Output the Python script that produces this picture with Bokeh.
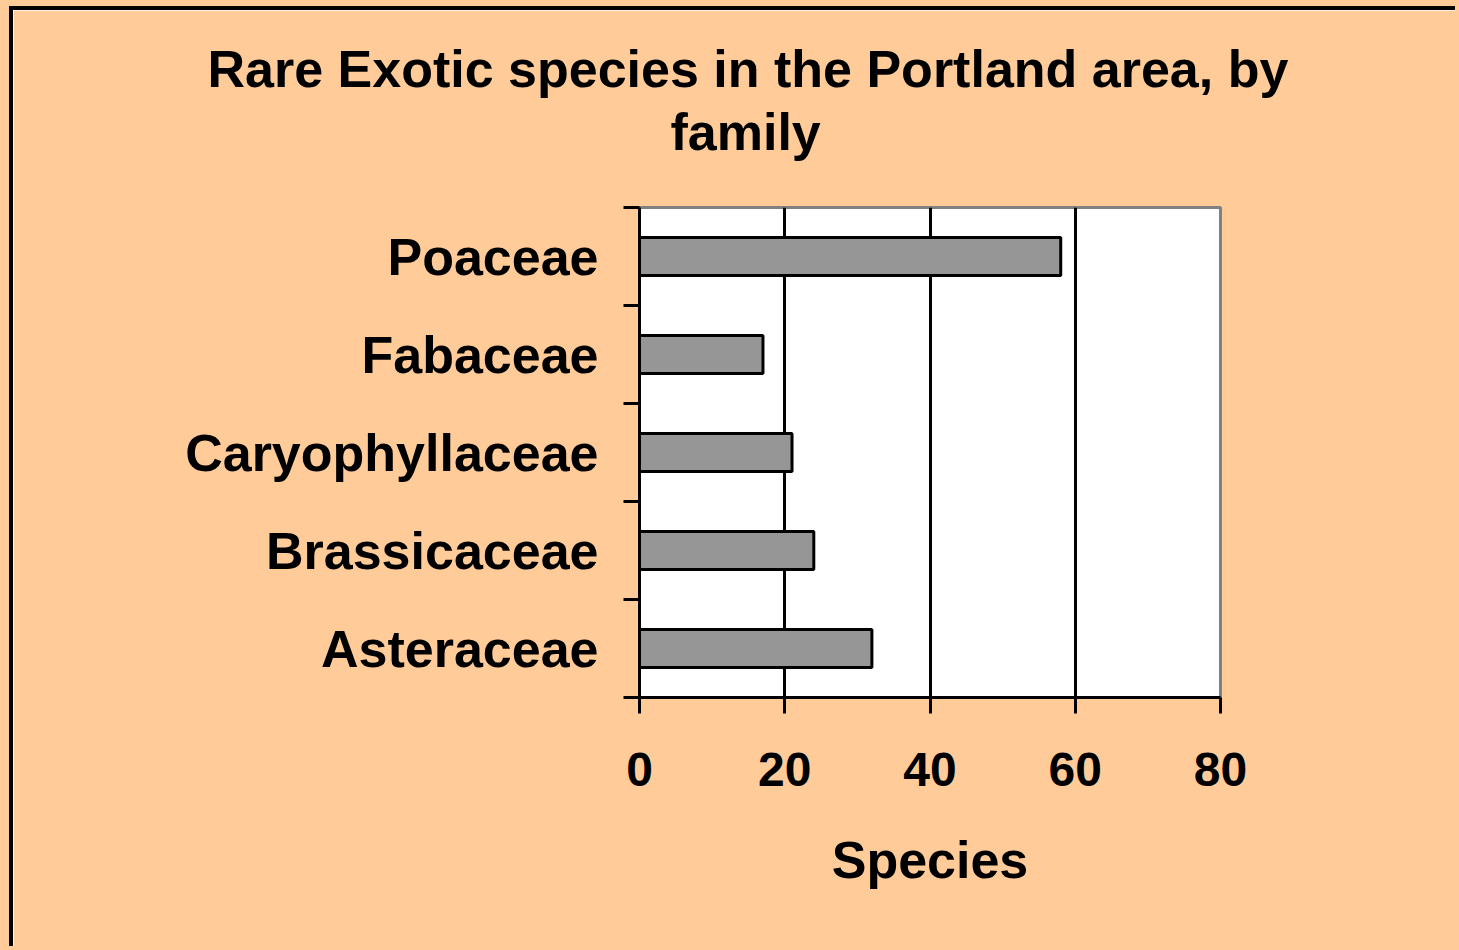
from bokeh.plotting import figure
from bokeh.models import (FactorRange, Range1d, LinearAxis, CategoricalAxis,
                          FixedTicker, Title, ColumnDataSource)
from bokeh.embed import file_html
from bokeh.resources import INLINE

# ---- data ----
families = ["Poaceae", "Fabaceae", "Caryophyllaceae", "Brassicaceae", "Asteraceae"]
species_counts = [58, 17, 21, 24, 32]
x_ticks = [0, 20, 40, 60, 80]
title_lines = ["Rare Exotic species in the Portland area, by", "family"]
x_label = "Species"

FONT = "Liberation Sans"
PEACH = "#FFCC99"

factors = list(reversed(families))
src = ColumnDataSource(dict(family=families, count=species_counts))

p = figure(width=1446, height=940,
           y_range=FactorRange(factors=factors, range_padding=0),
           x_range=Range1d(x_ticks[0], x_ticks[-1]),
           output_backend="svg", toolbar_location=None,
           title_location=None,
           y_axis_location=None, x_axis_location="below",
           min_border_left=626, min_border_right=239,
           min_border_top=197, min_border_bottom=253)
p.styles = {"border-top": "4px solid black", "border-left": "4px solid black",
            "margin-left": "9px", "margin-top": "6px",
            "box-shadow": "0 0 0 14px " + PEACH}

p.border_fill_color = PEACH
p.background_fill_color = "white"
p.outline_line_color = "#808080"
p.outline_line_width = 3

p.hbar(y="family", left=0, right="count", height=0.39, source=src,
       fill_color="#969696", line_color="black", line_width=3)

# grid
p.ygrid.visible = False
p.xgrid.ticker = FixedTicker(ticks=x_ticks[1:-1])
p.xgrid.grid_line_color = "black"
p.xgrid.grid_line_width = 3

# x axis
xa = p.xaxis[0]
xa.ticker = FixedTicker(ticks=x_ticks)
xa.axis_line_color = "black"
xa.axis_line_width = 3
xa.major_tick_out = 16
xa.major_tick_in = 0
xa.major_tick_line_width = 3
xa.minor_tick_line_color = None
xa.major_label_text_font = FONT
xa.major_label_text_font_style = "bold"
xa.major_label_text_font_size = "48px"
xa.major_label_text_color = "black"
xa.major_label_standoff = 39
xa.axis_label = x_label
xa.axis_label_text_font = FONT
xa.axis_label_text_font_style = "bold"
xa.axis_label_text_font_size = "52px"
xa.axis_label_text_color = "black"
xa.axis_label_standoff = 42

# y axis: ticks at category edges (closest to frame), labels at centres
tick_axis = LinearAxis(ticker=FixedTicker(ticks=list(range(len(families) + 1))),
                       axis_line_color="black", axis_line_width=3,
                       major_tick_out=16, major_tick_in=0, major_tick_line_width=3,
                       minor_tick_line_color=None,
                       major_label_text_font_size="1px", major_label_text_alpha=0,
                       major_label_standoff=0)
p.add_layout(tick_axis, "left")

cat_axis = CategoricalAxis(axis_line_color=None, major_tick_line_color=None,
                           minor_tick_line_color=None,
                           major_label_text_font=FONT,
                           major_label_text_font_style="bold",
                           major_label_text_font_size="52px",
                           major_label_text_color="black",
                           major_label_standoff=19)
p.add_layout(cat_axis, "left")

# title: two lines, centred over the whole chart (not the frame)
t2 = Title(text=title_lines[1], align="left", offset=31, standoff=94,
           text_font=FONT, text_font_style="bold", text_font_size="52px",
           text_color="black")
t1 = Title(text=title_lines[0], align="left", offset=-432, standoff=-88,
           text_font=FONT, text_font_style="bold", text_font_size="52px",
           text_color="black")
p.add_layout(t2, "above")
p.add_layout(t1, "above")

open("out.html", "w").write(file_html(p, INLINE))
